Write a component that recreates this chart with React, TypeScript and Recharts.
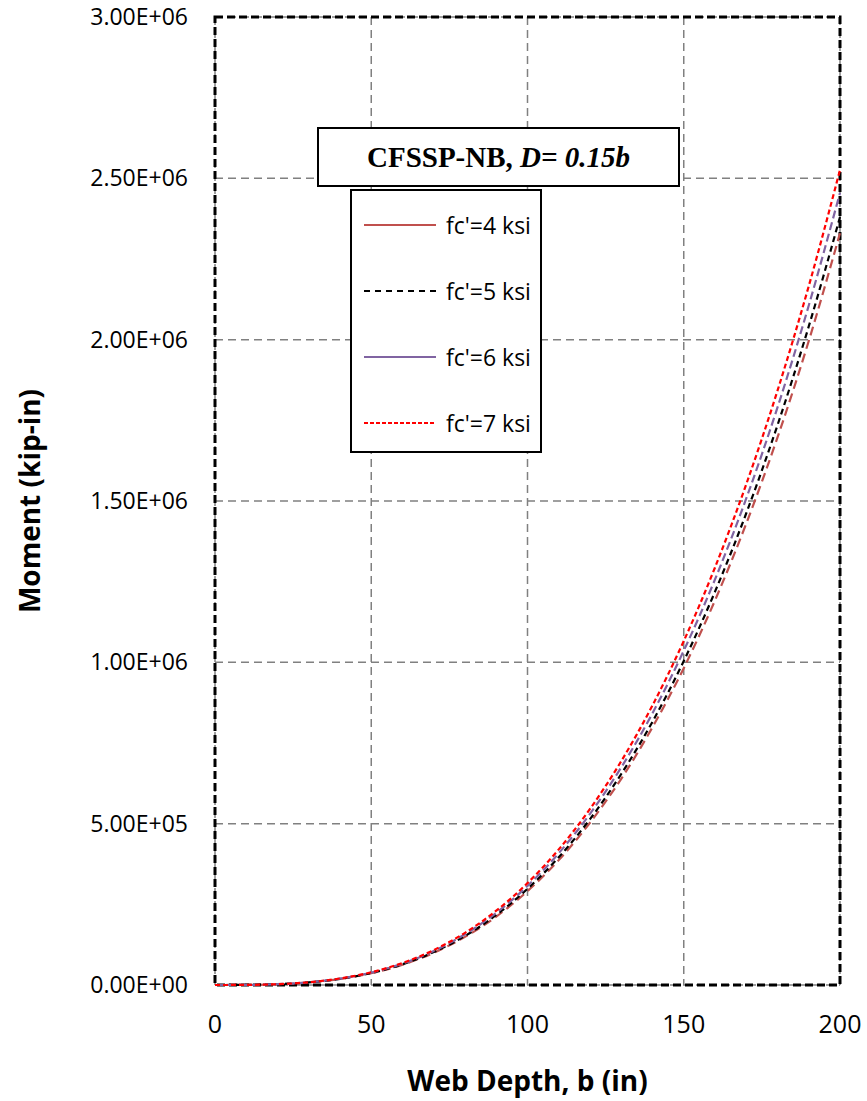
import { LineChart, Line, XAxis, YAxis, CartesianGrid, ReferenceArea } from "recharts";

// web depth b (in)
const depth = [0, 10, 20, 30, 40, 50, 60, 70, 80, 90, 100, 110, 120, 130, 140, 150, 160, 170, 180, 190, 200];

// moment (kip-in)
const fc4 = [0, 291, 2330, 7860, 18600, 36400, 62900, 99800, 149000, 212000, 291000, 387000, 503000, 639000, 799000, 982000, 1192000, 1430000, 1697000, 1996000, 2330000];
const fc5 = [0, 298, 2380, 8030, 19000, 37200, 64300, 102000, 152000, 217000, 298000, 396000, 514000, 654000, 816000, 1004000, 1219000, 1462000, 1735000, 2041000, 2380000];
const fc6 = [0, 307, 2460, 8290, 19600, 38400, 66300, 105300, 157100, 223700, 307000, 408600, 530500, 674500, 842400, 1036000, 1257000, 1508000, 1790000, 2106000, 2455000];
const fc7 = [0, 316, 2530, 8530, 20200, 39500, 68200, 108300, 161700, 230200, 315800, 420300, 545700, 693800, 866600, 1066000, 1294000, 1552000, 1842000, 2166000, 2526000];

const xTicks = [0, 50, 100, 150, 200];
const yTicks = [0, 500000, 1000000, 1500000, 2000000, 2500000, 3000000];

const data = depth.map((b, i) => ({ b, fc4: fc4[i], fc5: fc5[i], fc6: fc6[i], fc7: fc7[i] }));

const series = [
  { key: "fc4", name: "fc'=4 ksi", color: "#C0504D", plotDash: "9 5", legendDash: undefined },
  { key: "fc5", name: "fc'=5 ksi", color: "#000000", plotDash: "6 4", legendDash: "6 5" },
  { key: "fc6", name: "fc'=6 ksi", color: "#8064A2", plotDash: "8 4", legendDash: undefined },
  { key: "fc7", name: "fc'=7 ksi", color: "#FF0000", plotDash: "5 3", legendDash: "4 2" },
];

const sciFmt = (v: number) => {
  if (v === 0) return "0.00E+00";
  const e = Math.floor(Math.log10(v));
  const m = v / Math.pow(10, e);
  return `${m.toFixed(2)}E+${String(e).padStart(2, "0")}`;
};

const font = "'Open Sans', sans-serif";

function LegendBox() {
  return (
    <div style={{ position: "absolute", left: 350, top: 189, width: 192, height: 264, border: "2px solid #000", background: "#fff", boxSizing: "border-box" }}>
      {series.map((s, i) => (
        <div key={s.key} style={{ position: "absolute", left: 12, top: 34 + i * 66, height: 0, display: "flex", alignItems: "center" }}>
          <svg width={74} height={6}>
            <line x1={0} y1={3} x2={72} y2={3} stroke={s.color} strokeWidth={2} strokeDasharray={s.legendDash} />
          </svg>
          <span style={{ marginLeft: 8, fontFamily: font, fontSize: 23, color: "#000", whiteSpace: "nowrap" }}>{s.name}</span>
        </div>
      ))}
    </div>
  );
}

export default function App() {
  return (
    <div style={{ position: "absolute", left: 0, top: 0, width: 867, height: 1101, background: "#fff" }}>
      <LineChart width={867} height={1101} data={data} margin={{ top: 17, right: 27, bottom: 0, left: 0 }}>
        <CartesianGrid stroke="#808080" strokeWidth={1.5} strokeDasharray="8 5" />
        <XAxis
          dataKey="b"
          type="number"
          domain={[0, 200]}
          ticks={xTicks}
          axisLine={false}
          tickLine={false}
          height={116}
          tickMargin={24}
          tick={{ fill: "#000", fontSize: 25, fontFamily: font }}
          label={{ value: "Web Depth, b (in)", position: "insideBottom", offset: 10, fill: "#000", fontSize: 28, fontWeight: 700, fontFamily: font }}
        />
        <YAxis
          type="number"
          domain={[0, 3000000]}
          ticks={yTicks}
          tickFormatter={sciFmt}
          axisLine={false}
          tickLine={false}
          width={215}
          tickMargin={21}
          tick={{ fill: "#000", fontSize: 23, fontFamily: font }}
          label={{ value: "Moment (kip-in)", angle: -90, position: "center", dx: -77, fill: "#000", fontSize: 28, fontWeight: 700, fontFamily: font }}
        />
        {series.map((s) => (
          <Line
            key={s.key}
            type="monotone"
            dataKey={s.key}
            name={s.name}
            stroke={s.color}
            strokeWidth={2.2}
            strokeDasharray={s.plotDash}
            dot={false}
            isAnimationActive={false}
          />
        ))}
        <ReferenceArea x1={0} x2={200} y1={0} y2={3000000} fill="none" stroke="#000" strokeWidth={3} strokeDasharray="8 4" ifOverflow="visible" />
      </LineChart>
      <div
        style={{
          position: "absolute",
          left: 317,
          top: 127,
          width: 363,
          height: 60,
          border: "2px solid #000",
          background: "#fff",
          boxSizing: "border-box",
          display: "flex",
          alignItems: "center",
          justifyContent: "center",
          fontFamily: "'Liberation Serif', 'Times New Roman', serif",
          fontSize: 29,
          fontWeight: 700,
          color: "#000",
        }}
      >
        CFSSP-NB,&nbsp;<i>D= 0.15b</i>
      </div>
      <LegendBox />
    </div>
  );
}
